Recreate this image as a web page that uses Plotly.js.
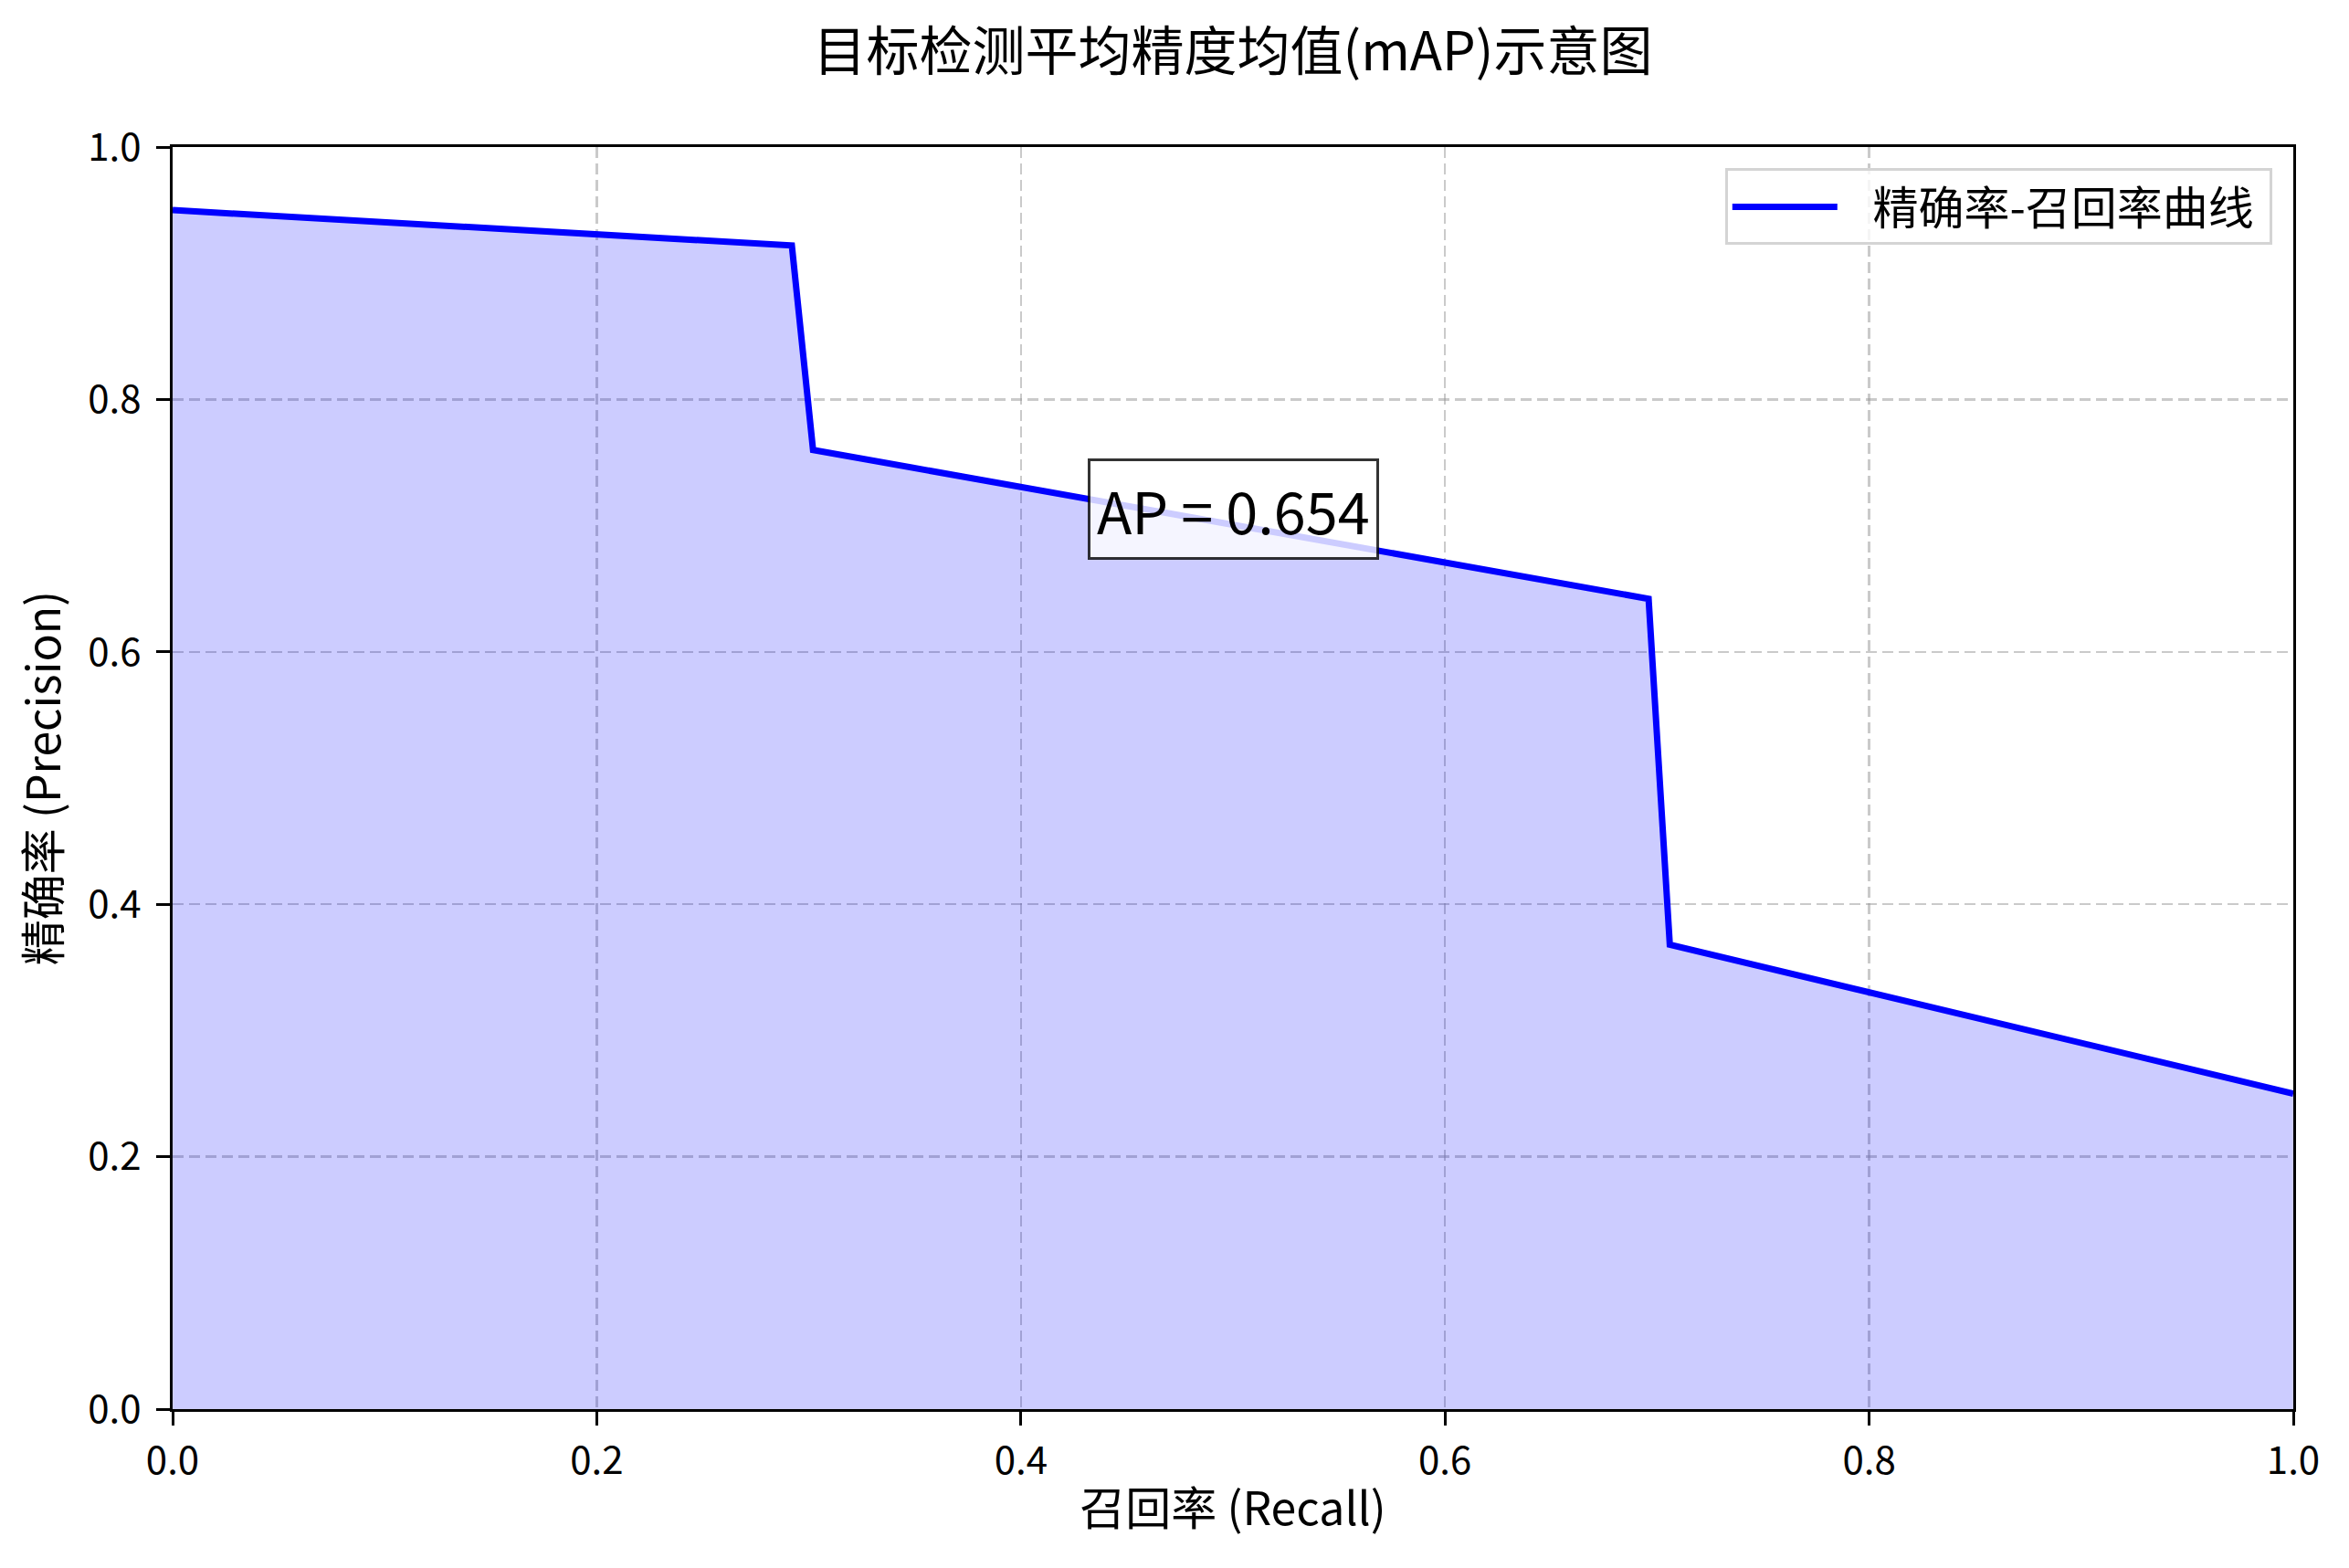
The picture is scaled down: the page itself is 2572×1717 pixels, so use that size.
<!DOCTYPE html>
<html>
<head>
<meta charset="utf-8">
<script src="https://cdn.plot.ly/plotly-3.0.1.min.js"></script>
<style>html,body{margin:0;padding:0;background:#fff;}#chart{width:2572px;height:1717px;}</style>
</head>
<body>
<div id="chart"></div>
<script>
// Data
const recall = [0.0, 0.292, 0.302, 0.696, 0.706, 1.0];
const precision = [0.95, 0.922, 0.760, 0.642, 0.368, 0.25];
const tickValues = [0.0, 0.2, 0.4, 0.6, 0.8, 1.0];
const tickLabels = ['0.0', '0.2', '0.4', '0.6', '0.8', '1.0'];
const apValue = 0.654;
const apPosition = {x: 0.5, y: 0.713};
const seriesName = '精确率-召回率曲线';
const chartTitle = '目标检测平均精度均值(mAP)示意图';
const xTitle = '召回率 (Recall)';
const yTitle = '精确率 (Precision)';

const FONT = '"Noto Sans CJK SC", "Noto Sans", sans-serif';
const NB = '\u00a0';

const fillTrace = {
  x: recall, y: precision, type: 'scatter', mode: 'lines',
  fill: 'tozeroy', fillcolor: 'rgba(0,0,255,0.2)',
  line: {width: 0, color: 'rgba(0,0,255,0)'},
  showlegend: false, hoverinfo: 'skip'
};
const lineTrace = {
  x: recall, y: precision, type: 'scatter', mode: 'lines',
  name: NB + NB + NB + seriesName + NB,
  line: {color: '#0000ff', width: 7}
};

const axisCommon = {
  range: [0, 1], tickvals: tickValues, ticktext: tickLabels,
  showgrid: true, gridcolor: 'rgba(150,150,150,0.5)', gridwidth: 2.5, griddash: '12px,6px',
  zeroline: false, showline: true, linecolor: '#000', linewidth: 3, mirror: true,
  ticks: 'outside', ticklen: 15, tickwidth: 3, tickcolor: '#000',
  tickfont: {family: FONT, size: 42, color: '#000'}
};

const layout = {
  width: 2572, height: 1717,
  paper_bgcolor: '#fff', plot_bgcolor: '#fff',
  margin: {l: 189, r: 61, t: 161, b: 174},
  font: {family: FONT, color: '#000'},
  title: {text: chartTitle, font: {family: FONT, size: 58, color: '#000'},
          xref: 'paper', x: 0.5, xanchor: 'center', yref: 'container', y: 0.967, yanchor: 'middle'},
  xaxis: Object.assign({}, axisCommon, {
    ticklabelstandoff: 3,
    title: {text: xTitle, font: {family: FONT, size: 50, color: '#000'}, standoff: 10}
  }),
  yaxis: Object.assign({}, axisCommon, {
    ticklabelstandoff: 8,
    title: {text: yTitle, font: {family: FONT, size: 50, color: '#000'}, standoff: 14}
  }),
  legend: {
    x: 0.99, y: 0.983, xanchor: 'right', yanchor: 'top',
    bgcolor: 'rgba(255,255,255,0.8)', bordercolor: '#d4d4d4', borderwidth: 3,
    font: {family: FONT, size: 50, color: '#000'}, itemwidth: 115
  },
  annotations: [{
    x: apPosition.x, y: apPosition.y, xref: 'x', yref: 'y',
    text: 'AP = ' + apValue.toFixed(3), showarrow: false,
    font: {family: FONT, size: 63, color: '#000'},
    bgcolor: 'rgba(255,255,255,0.8)', bordercolor: 'rgba(0,0,0,0.8)', borderwidth: 3, borderpad: 7,
    xanchor: 'center', yanchor: 'middle'
  }],
  showlegend: true
};

Plotly.newPlot('chart', [fillTrace, lineTrace], layout, {staticPlot: true, displayModeBar: false});
</script>
</body>
</html>
